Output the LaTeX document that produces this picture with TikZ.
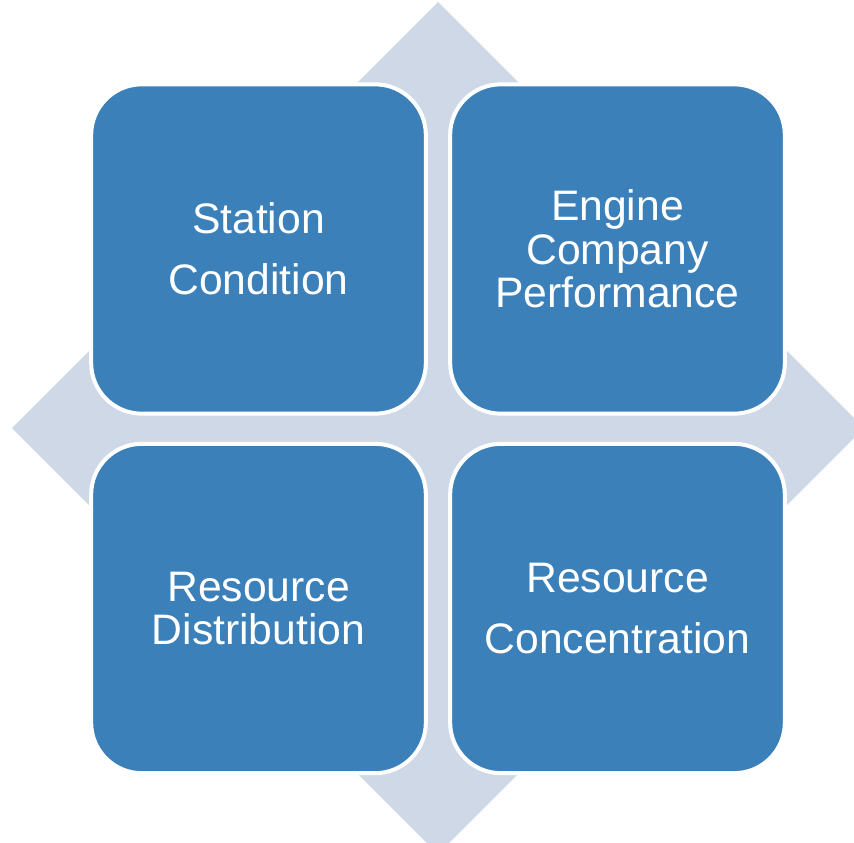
\documentclass[tikz,border=0pt]{standalone}
\usepackage{fontspec}
\setmainfont{Liberation Sans}
\definecolor{tileblue}{HTML}{3B80B9}
\definecolor{backblue}{HTML}{CFD8E6}
\begin{document}
\begin{tikzpicture}[x=0.75pt,y=-0.75pt,
  tile/.style={draw=white,line width=3pt,fill=tileblue,rounded corners=38pt,
    minimum width=251pt,minimum height=247pt,inner sep=0pt,
    text=white,align=center,font=\fontsize{32}{32.5}\selectfont}]
  \useasboundingbox (0,0) rectangle (854,843);
  \clip (0,0) rectangle (854,843);

  % Background diamond
  \fill[backblue] (438,2) -- (864,428) -- (438,854) -- (12,428) -- cycle;

  % Tiles
  \node[tile] (station) at (258.5,249) {Station\\[13.5pt]Condition};
  \node[tile] (engine) at (617.5,249) {Engine\\Company\\Performance};
  \node[tile] (distribution) at (258.5,608.5) {Resource\\Distribution};
  \node[tile] (concentration) at (617.5,608.5) {Resource\\[13.5pt]Concentration};
\end{tikzpicture}
\end{document}
